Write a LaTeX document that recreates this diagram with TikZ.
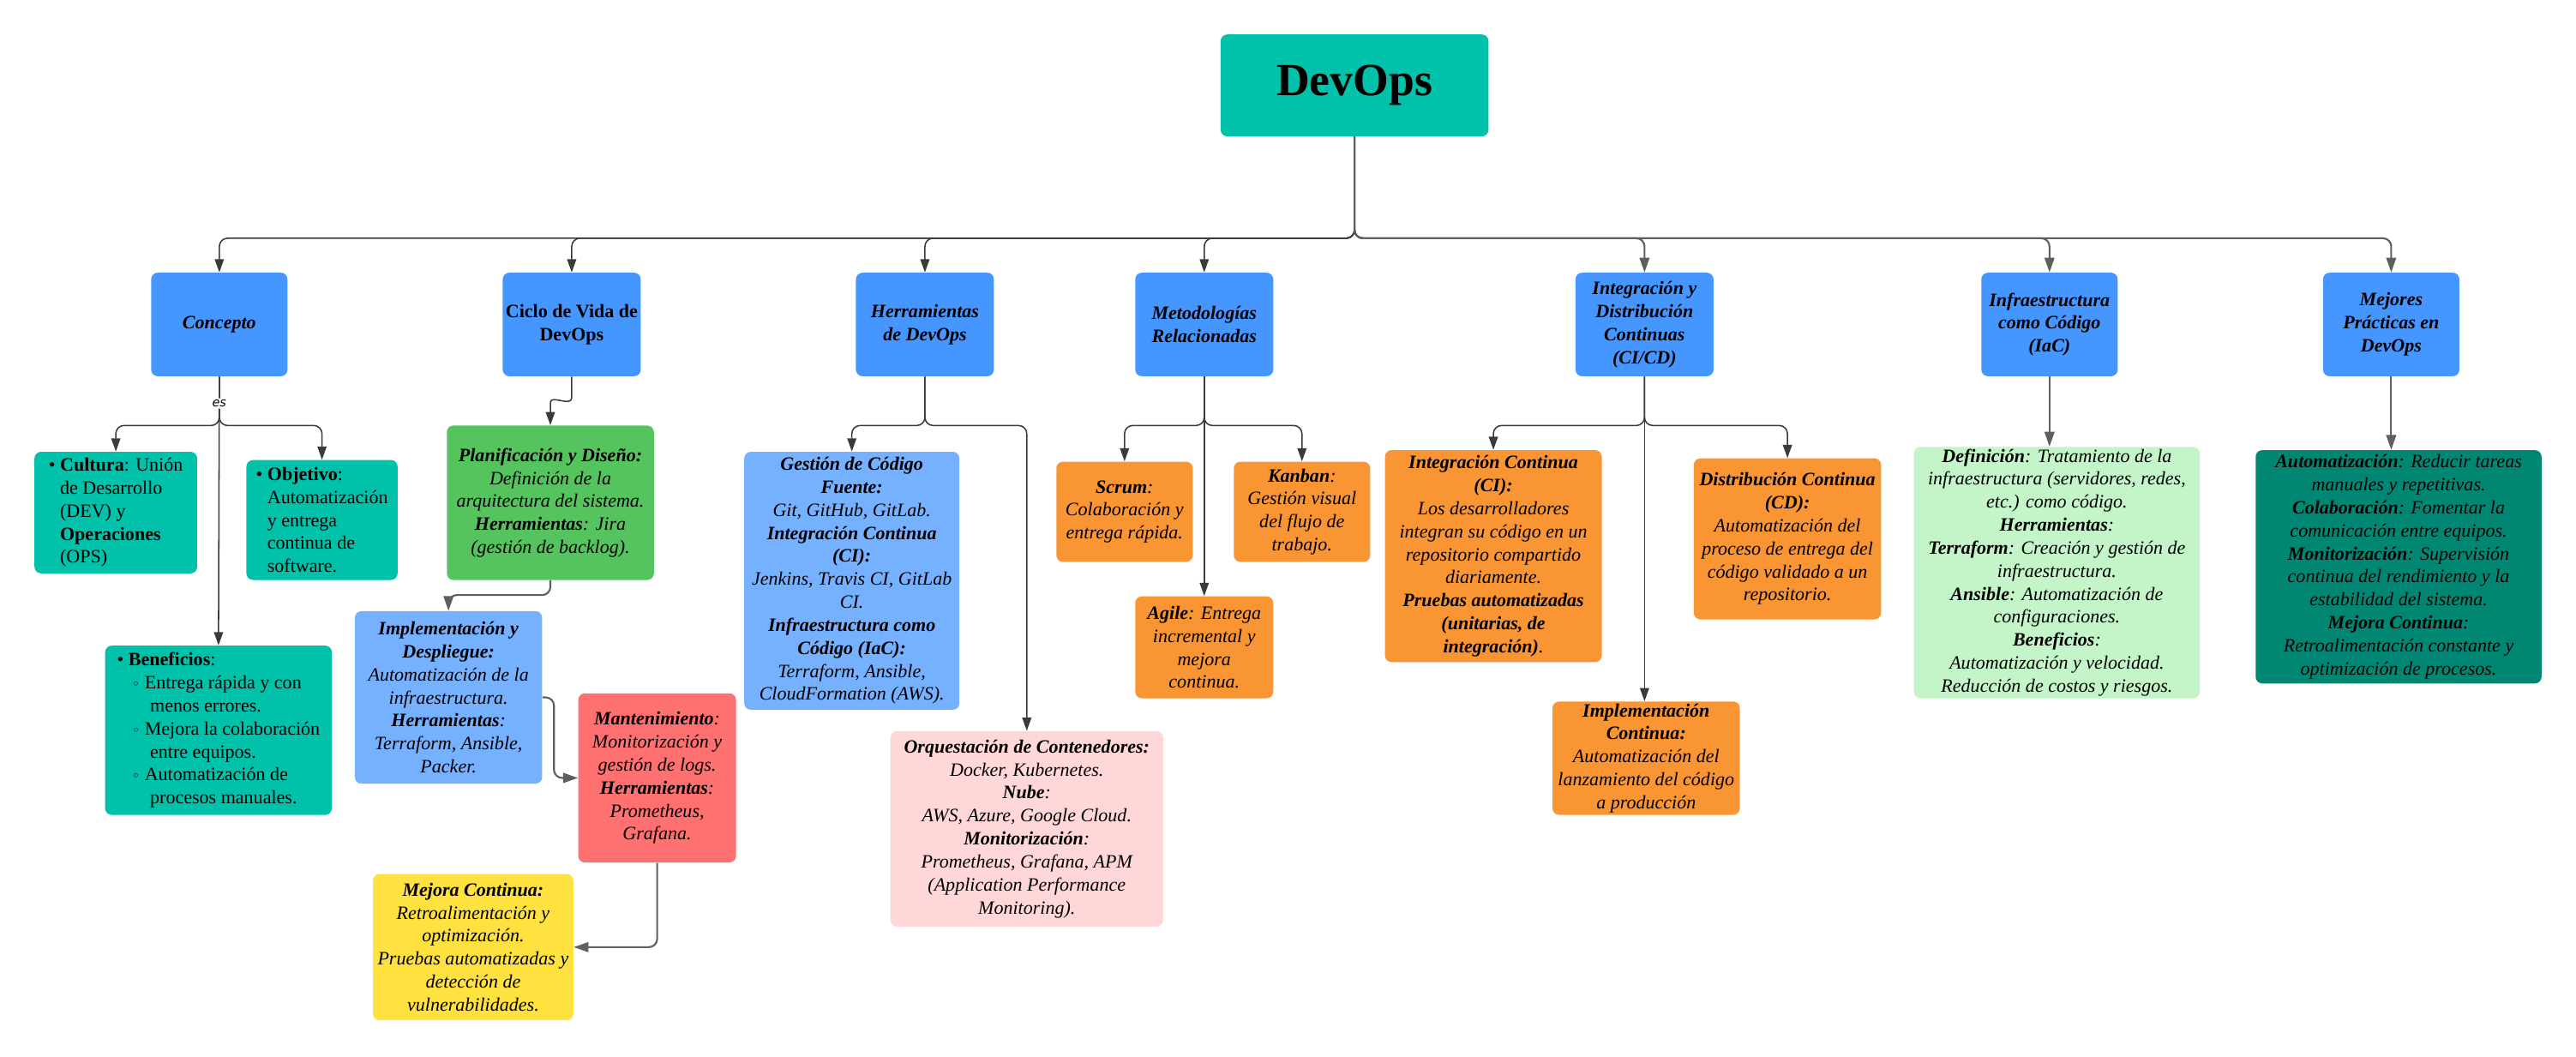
\documentclass[tikz,border=0pt]{standalone}
\usepackage{fontspec}
\setmainfont{Liberation Serif}
\newfontfamily\symfont{DejaVu Sans}
\usetikzlibrary{arrows.meta}
\definecolor{cteal}{HTML}{00C1A9}
\definecolor{cblue}{HTML}{4596FF}
\definecolor{clblue}{HTML}{76B1FF}
\definecolor{cgreen}{HTML}{55C45E}
\definecolor{cred}{HTML}{FF7070}
\definecolor{cyellow}{HTML}{FFE13F}
\definecolor{cpink}{HTML}{FFD7D8}
\definecolor{corange}{HTML}{FA9533}
\definecolor{clgreen}{HTML}{C3F5C8}
\definecolor{cdteal}{HTML}{008773}
\definecolor{cline}{HTML}{3A3A3A}
\definecolor{cline2}{HTML}{5F5F5F}
\newcommand{\sbul}{{\symfont\fontsize{8}{8}\selectfont ◦}}
\begin{document}
\begin{tikzpicture}[x=1pt,y=-1pt,
  box/.style={rounded corners=4pt, inner sep=0pt, align=center,
    font=\fontsize{11.5}{14}\selectfont\itshape},
  upbox/.style={box, font=\fontsize{11.5}{14}\selectfont},
  conn/.style={draw=cline, line width=0.8pt, rounded corners=5pt,
    -{Triangle[length=8pt,width=5.5pt]}},
  conntwo/.style={draw=cline2, line width=1.1pt, rounded corners=5pt,
    -{Triangle[length=9pt,width=6pt]}},
  lab/.style={font=\symfont\itshape\fontsize{7.5}{8}\selectfont, fill=white, inner sep=1pt}
]
\fill[white] (0,0) rectangle (1568,643);
\useasboundingbox (0,0) rectangle (1568,643);

% root
\node[box, fill=cteal, minimum width=163pt, minimum height=62pt,
  font=\fontsize{28}{32}\selectfont\bfseries] (devops) at (824.5,52) {DevOps};

% level 1
\node[box, fill=cblue, minimum width=83pt, minimum height=63pt] (concepto) at (133.5,197.5) {\textbf{Concepto}};
\node[upbox, fill=cblue, minimum width=84pt, minimum height=63pt] (ciclo) at (348,197.5) {\textbf{Ciclo de Vida de}\\\textbf{DevOps}};
\node[box, fill=cblue, minimum width=84pt, minimum height=63pt] (herr) at (563,197.5) {\textbf{Herramientas}\\\textbf{de DevOps}};
\node[box, fill=cblue, minimum width=84pt, minimum height=63pt] (metod) at (733,197.5) {\textbf{Metodologías}\\\textbf{Relacionadas}};
\node[box, fill=cblue, minimum width=84pt, minimum height=63pt] (cicd) at (1001,197.5) {\textbf{Integración y}\\\textbf{Distribución}\\\textbf{Continuas}\\\textbf{(CI/CD)}};
\node[box, fill=cblue, minimum width=83pt, minimum height=63pt] (iac) at (1247.5,197.5) {\textbf{Infraestructura}\\\textbf{como Código}\\\textbf{(IaC)}};
\node[box, fill=cblue, minimum width=83pt, minimum height=63pt] (mejores) at (1455.5,197.5) {\textbf{Mejores}\\\textbf{Prácticas en}\\\textbf{DevOps}};

% Concepto children
\node[upbox, fill=cteal, minimum width=99pt, minimum height=74pt, align=left] (cultura) at (70.5,312)
 {\textbullet\ \textbf{Cultura}: Unión\\\hspace*{0.6em}de Desarrollo\\\hspace*{0.6em}(DEV) y\\\hspace*{0.6em}\textbf{Operaciones}\\\hspace*{0.6em}(OPS)};
\node[upbox, fill=cteal, minimum width=92pt, minimum height=73pt, align=left] (objetivo) at (196,316.5)
 {\textbullet\ \textbf{Objetivo}:\\\hspace*{0.6em}Automatización\\\hspace*{0.6em}y entrega\\\hspace*{0.6em}continua de\\\hspace*{0.6em}software.};
\node[upbox, fill=cteal, minimum width=138pt, minimum height=103pt, align=left] (benef) at (133,444.5)
 {\textbullet\ \textbf{Beneficios}:\\
  \hspace*{0.8em}\sbul\ Entrega rápida y con\\\hspace*{1.75em}menos errores.\\
  \hspace*{0.8em}\sbul\ Mejora la colaboración\\\hspace*{1.75em}entre equipos.\\
  \hspace*{0.8em}\sbul\ Automatización de\\\hspace*{1.75em}procesos manuales.};

% Ciclo children
\node[box, fill=cgreen, minimum width=126pt, minimum height=94pt] (plan) at (335,306)
 {\textbf{Planificación y Diseño:}\\Definición de la\\arquitectura del sistema.\\\textbf{Herramientas}: Jira\\(gestión de backlog).};
\node[box, fill=clblue, minimum width=114pt, minimum height=105pt] (impl) at (273,424.5)
 {\textbf{Implementación y}\\\textbf{Despliegue:}\\Automatización de la\\infraestructura.\\\textbf{Herramientas}:\\Terraform, Ansible,\\Packer.};
\node[box, fill=cred, minimum width=96pt, minimum height=103pt] (mant) at (400,473.5)
 {\textbf{Mantenimiento}:\\Monitorización y\\gestión de logs.\\\textbf{Herramientas}:\\Prometheus,\\Grafana.};
\node[box, fill=cyellow, minimum width=122pt, minimum height=89pt] (mejora) at (288,576.5)
 {\textbf{Mejora Continua:}\\Retroalimentación y\\optimización.\\Pruebas automatizadas y\\detección de\\vulnerabilidades.};

% Herramientas children
\node[box, fill=clblue, minimum width=131pt, minimum height=157pt] (gest) at (518.5,353.5)
 {\textbf{Gestión de Código}\\\textbf{Fuente:}\\Git, GitHub, GitLab.\\\textbf{Integración Continua}\\\textbf{(CI):}\\Jenkins, Travis CI, GitLab\\CI.\\\textbf{Infraestructura como}\\\textbf{Código (IaC):}\\Terraform, Ansible,\\CloudFormation (AWS).};
\node[box, fill=cpink, minimum width=166pt, minimum height=119pt] (orq) at (625,504.5)
 {\textbf{Orquestación de Contenedores:}\\Docker, Kubernetes.\\\textbf{Nube}:\\AWS, Azure, Google Cloud.\\\textbf{Monitorización}:\\Prometheus, Grafana, APM\\(Application Performance\\Monitoring).};

% Metodologias children
\node[box, fill=corange, minimum width=83pt, minimum height=61pt] (scrum) at (684.5,311.5)
 {\textbf{Scrum}:\\Colaboración y\\entrega rápida.};
\node[box, fill=corange, minimum width=83pt, minimum height=61pt] (kanban) at (792.5,311.5)
 {\textbf{Kanban}:\\Gestión visual\\del flujo de\\trabajo.};
\node[box, fill=corange, minimum width=84pt, minimum height=62pt] (agile) at (733,394)
 {\textbf{Agile}: Entrega\\incremental y\\mejora\\continua.};

% CI/CD children
\node[box, fill=corange, minimum width=132pt, minimum height=129pt] (ci) at (909,338.5)
 {\textbf{Integración Continua}\\\textbf{(CI):}\\Los desarrolladores\\integran su código en un\\repositorio compartido\\diariamente.\\\textbf{Pruebas automatizadas}\\\textbf{(unitarias, de}\\\textbf{integración)}.};
\node[box, fill=corange, minimum width=114pt, minimum height=98pt] (cd) at (1088,328)
 {\textbf{Distribución Continua}\\\textbf{(CD):}\\Automatización del\\proceso de entrega del\\código validado a un\\repositorio.};
\node[box, fill=corange, minimum width=114pt, minimum height=69pt] (implc) at (1002,461.5)
 {\textbf{Implementación}\\\textbf{Continua:}\\Automatización del\\lanzamiento del código\\a producción};

% IaC child
\node[box, fill=clgreen, minimum width=174pt, minimum height=153pt] (def) at (1252,348.5)
 {\textbf{Definición}: Tratamiento de la\\infraestructura (servidores, redes,\\etc.) como código.\\\textbf{Herramientas}:\\\textbf{Terraform}: Creación y gestión de\\infraestructura.\\\textbf{Ansible}: Automatización de\\configuraciones.\\\textbf{Beneficios}:\\Automatización y velocidad.\\Reducción de costos y riesgos.};

% Mejores child
\node[box, fill=cdteal, minimum width=174pt, minimum height=142pt] (mejd) at (1460,345)
 {\textbf{Automatización}: Reducir tareas\\manuales y repetitivas.\\\textbf{Colaboración}: Fomentar la\\comunicación entre equipos.\\\textbf{Monitorización}: Supervisión\\continua del rendimiento y la\\estabilidad del sistema.\\\textbf{Mejora Continua}:\\Retroalimentación constante y\\optimización de procesos.};

% bus coordinates
\coordinate (bus) at (824.5,145);
\coordinate (cbus) at (133.5,259);
\coordinate (hbus) at (563,259);
\coordinate (mbus) at (733,259);
\coordinate (ibus) at (1001,259);

% root connectors
\foreach \n in {concepto,ciclo,herr,metod}
  \draw[conn] (devops.south) |- (\n.north |- bus) -- (\n.north);
\foreach \n in {cicd,iac,mejores}
  \draw[conntwo] (devops.south) |- (\n.north |- bus) -- (\n.north);

% concepto
\draw[conn] (concepto.south) |- (cultura.north |- cbus) -- (cultura.north);
\draw[conn] (concepto.south) |- (objetivo.north |- cbus) -- (objetivo.north);
\draw[conn] (concepto.south) -- node[lab, pos=0.1] {es} (benef.north);

% ciclo
\draw[conn] (ciclo.south) -- (348,237) .. controls (348,248) and (335,240) .. (335,250) -- (plan.north);
\draw[conntwo] (plan.south) -- ++(0,9) -| (impl.north);
\draw[conntwo] (impl.east) -- ++(7,0) |- (mant.west);
\draw[conntwo] (mant.south) |- (mejora.east);

% herramientas
\draw[conn] (herr.south) |- (gest.north |- hbus) -- (gest.north);
\draw[conn] (herr.south) |- (orq.north |- hbus) -- (orq.north);

% metodologias
\draw[conn] (metod.south) |- (scrum.north |- mbus) -- (scrum.north);
\draw[conn] (metod.south) |- (kanban.north |- mbus) -- (kanban.north);
\draw[conn] (metod.south) -- (agile.north);

% ci/cd
\draw[conn] (cicd.south) |- (ci.north |- ibus) -- (ci.north);
\draw[conn] (cicd.south) |- (cd.north |- ibus) -- (cd.north);
\draw[conn] (cicd.south) -- (cicd.south |- implc.north);

% iac, mejores
\draw[conntwo] (iac.south) -- (iac.south |- def.north);
\draw[conntwo] (mejores.south) -- (mejores.south |- mejd.north);
\end{tikzpicture}
\end{document}
